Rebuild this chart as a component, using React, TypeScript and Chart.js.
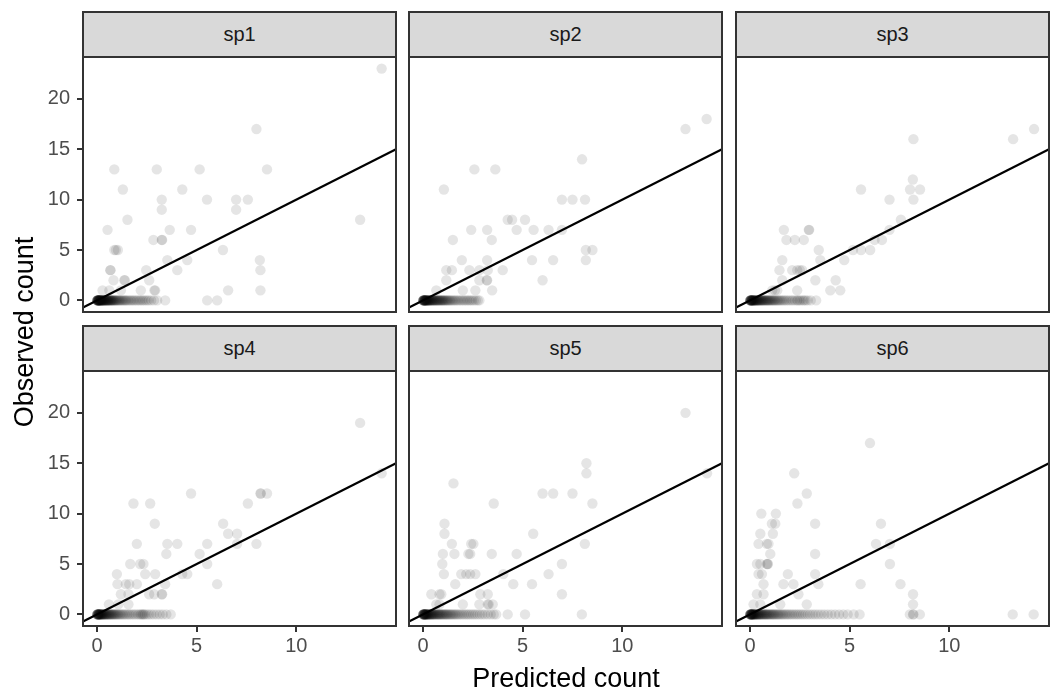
import React, { useEffect, useRef } from "react";
import { Chart, registerables } from "chart.js";

Chart.register(...registerables);

// ---------------- data ----------------
const SPECIES = ["sp1", "sp2", "sp3", "sp4", "sp5", "sp6"];
const X_TICKS = [0, 5, 10];
const Y_TICKS = [0, 5, 10, 15, 20];
const X_LIMITS = [-0.7, 15.0];
const Y_LIMITS = [-1.15, 24.15];
const ABLINE_INTERCEPT = 0;
const ABLINE_SLOPE = 1;
const X_TITLE = "Predicted count";
const Y_TITLE = "Observed count";

// [predicted, observed]
const SP1_POINTS = [
  [14.28, 23], [8.0, 17], [0.87, 13], [3.0, 13], [5.15, 13], [8.53, 13], [1.3, 11], [4.28, 11],
  [3.25, 10], [5.52, 10], [6.98, 10], [7.57, 10], [3.25, 9], [6.98, 9], [1.53, 8], [13.2, 8],
  [0.53, 7], [3.65, 7], [4.72, 7], [2.83, 6], [3.25, 6], [3.27, 6], [0.87, 5], [1.05, 5], [0.95, 5],
  [6.32, 5], [3.53, 4], [4.53, 4], [8.17, 4], [0.67, 3], [0.68, 3], [2.47, 3], [4.03, 3], [8.2, 3],
  [0.83, 2], [1.37, 2], [1.4, 2], [2.62, 2], [0.28, 1], [0.62, 1], [1.2, 1], [2.2, 1], [2.88, 1],
  [2.92, 1], [6.58, 1], [8.2, 1], [5.53, 0], [6.03, 0], [3.42, 0],
];
// predicted values of the sites with observed count 0
const SP1_ZERO_PRED = [
  0.01, 0.01, 0.02, 0.02, 0.03, 0.03, 0.04, 0.04, 0.05, 0.05, 0.06, 0.06, 0.07, 0.08, 0.08, 0.09,
  0.1, 0.1, 0.11, 0.12, 0.12, 0.13, 0.14, 0.15, 0.15, 0.16, 0.17, 0.18, 0.19, 0.2, 0.21, 0.22,
  0.23, 0.24, 0.25, 0.26, 0.27, 0.28, 0.29, 0.3, 0.31, 0.33, 0.34, 0.35, 0.37, 0.38, 0.4, 0.41,
  0.43, 0.44, 0.46, 0.47, 0.49, 0.5, 0.52, 0.54, 0.55, 0.57, 0.59, 0.61, 0.63, 0.65, 0.67, 0.69,
  0.71, 0.73, 0.75, 0.78, 0.8, 0.82, 0.85, 0.88, 0.91, 0.94, 0.97, 1.0, 1.04, 1.08, 1.12, 1.16,
  1.2, 1.25, 1.3, 1.35, 1.4, 1.45, 1.5, 1.57, 1.64, 1.71, 1.78, 1.85, 1.93, 2.01, 2.09, 2.17,
  2.25, 2.33, 2.42, 2.51, 2.6, 2.72, 2.86, 3.02,
];

const SP2_POINTS = [
  [14.23, 18], [13.17, 17], [7.98, 14], [2.58, 13], [3.63, 13], [1.05, 11], [6.97, 10], [7.5, 10],
  [8.13, 10], [4.25, 8], [4.47, 8], [5.12, 8], [2.42, 7], [3.22, 7], [4.7, 7], [5.55, 7], [6.3, 7],
  [6.97, 7], [1.5, 6], [3.45, 6], [8.17, 5], [8.5, 5], [1.95, 4], [3.22, 4], [5.47, 4], [6.53, 4],
  [8.17, 4], [1.17, 3], [1.45, 3], [2.33, 3], [2.83, 3], [3.25, 3], [4.0, 3], [1.17, 2], [2.83, 2],
  [3.2, 2], [3.22, 2], [6.0, 2], [0.67, 1], [2.0, 1], [2.63, 1], [3.47, 1], [2.83, 0],
];
const SP2_ZERO_PRED = [
  0.01, 0.01, 0.02, 0.02, 0.03, 0.03, 0.04, 0.05, 0.05, 0.06, 0.07, 0.07, 0.08, 0.09, 0.1, 0.1,
  0.11, 0.12, 0.13, 0.14, 0.15, 0.16, 0.17, 0.18, 0.19, 0.2, 0.21, 0.22, 0.24, 0.25, 0.26, 0.28,
  0.29, 0.31, 0.32, 0.34, 0.35, 0.37, 0.39, 0.41, 0.43, 0.45, 0.47, 0.49, 0.51, 0.53, 0.55, 0.58,
  0.6, 0.62, 0.65, 0.67, 0.7, 0.72, 0.75, 0.78, 0.8, 0.83, 0.86, 0.89, 0.92, 0.95, 0.98, 1.01,
  1.04, 1.08, 1.11, 1.15, 1.19, 1.23, 1.27, 1.32, 1.37, 1.42, 1.48, 1.54, 1.6, 1.67, 1.74, 1.82,
  1.9, 1.98, 2.06, 2.14, 2.22, 2.3, 2.38, 2.46, 2.55, 2.65, 2.75,
];

const SP3_POINTS = [
  [14.25, 17], [13.2, 16], [8.2, 16], [5.57, 11], [8.17, 12], [8.03, 11], [8.53, 11], [8.2, 10],
  [7.0, 10], [7.57, 8], [7.0, 7], [1.7, 7], [2.95, 7], [2.97, 7], [1.83, 6], [2.25, 6], [2.7, 6],
  [6.25, 6], [6.62, 6], [3.45, 5], [5.17, 5], [5.57, 5], [6.03, 5], [1.62, 4], [3.53, 4], [4.73, 4],
  [1.48, 3], [2.12, 3], [2.37, 3], [2.5, 3], [2.62, 3], [1.62, 2], [3.28, 2], [4.3, 2], [1.12, 1],
  [1.25, 1], [1.37, 1], [2.37, 1], [4.03, 1], [4.53, 1],
];
const SP3_ZERO_PRED = [
  0.01, 0.01, 0.02, 0.02, 0.03, 0.03, 0.04, 0.05, 0.05, 0.06, 0.07, 0.08, 0.08, 0.09, 0.1, 0.11,
  0.12, 0.13, 0.14, 0.15, 0.16, 0.17, 0.18, 0.19, 0.2, 0.22, 0.23, 0.24, 0.26, 0.27, 0.29, 0.3,
  0.32, 0.34, 0.35, 0.37, 0.39, 0.41, 0.43, 0.45, 0.47, 0.49, 0.51, 0.54, 0.56, 0.58, 0.61, 0.63,
  0.66, 0.68, 0.71, 0.74, 0.77, 0.8, 0.83, 0.86, 0.89, 0.92, 0.95, 0.99, 1.02, 1.06, 1.1, 1.14,
  1.18, 1.22, 1.26, 1.31, 1.36, 1.41, 1.46, 1.52, 1.58, 1.65, 1.72, 1.8, 1.88, 1.97, 2.07, 2.15,
  2.25, 2.35, 2.4, 2.48, 2.55, 2.65, 2.72, 2.8, 2.9, 3.05, 3.32,
];

const SP4_POINTS = [
  [13.2, 19], [14.28, 14], [4.72, 12], [8.2, 12], [8.22, 12], [8.53, 12], [1.83, 11], [2.67, 11],
  [7.57, 11], [2.9, 9], [6.33, 9], [6.58, 8], [7.03, 8], [2.0, 7], [3.53, 7], [4.03, 7], [5.53, 7],
  [7.03, 7], [8.0, 7], [3.48, 6], [5.15, 6], [1.67, 5], [2.17, 5], [2.33, 5], [5.53, 5], [1.0, 4],
  [2.42, 4], [2.92, 4], [4.28, 4], [4.53, 4], [1.03, 3], [1.45, 3], [1.62, 3], [2.0, 3], [3.42, 3],
  [6.03, 3], [1.2, 2], [1.58, 2], [2.62, 2], [2.87, 2], [3.25, 2], [3.27, 2], [1.07, 1], [1.58, 1],
  [0.6, 1],
];
const SP4_ZERO_PRED = [
  0.01, 0.01, 0.02, 0.02, 0.03, 0.04, 0.04, 0.05, 0.06, 0.06, 0.07, 0.08, 0.09, 0.1, 0.1, 0.11,
  0.12, 0.13, 0.14, 0.15, 0.16, 0.17, 0.18, 0.2, 0.21, 0.22, 0.24, 0.25, 0.27, 0.28, 0.3, 0.31,
  0.33, 0.35, 0.37, 0.39, 0.41, 0.43, 0.45, 0.47, 0.5, 0.52, 0.54, 0.57, 0.6, 0.62, 0.65, 0.68,
  0.71, 0.74, 0.77, 0.8, 0.84, 0.87, 0.91, 0.95, 0.99, 1.03, 1.08, 1.13, 1.18, 1.24, 1.3, 1.37,
  1.44, 1.52, 1.6, 1.68, 1.77, 1.86, 1.95, 2.05, 2.13, 2.2, 2.25, 2.3, 2.35, 2.4, 2.5, 2.6, 2.72,
  2.85, 3.0, 3.15, 3.3, 3.48, 3.7,
];

const SP5_POINTS = [
  [13.17, 20], [14.25, 14], [8.2, 15], [8.2, 14], [1.53, 13], [6.0, 12], [6.53, 12], [7.5, 12],
  [8.5, 11], [3.55, 11], [1.08, 9], [1.08, 8], [5.53, 8], [1.45, 7], [2.42, 7], [2.53, 7], [8.12, 7],
  [1.0, 6], [1.58, 6], [2.28, 6], [2.37, 6], [3.45, 6], [4.7, 6], [0.97, 5], [6.97, 5], [1.05, 4],
  [1.92, 4], [2.17, 4], [2.37, 4], [2.63, 4], [4.03, 4], [6.3, 4], [1.62, 3], [4.53, 3], [5.47, 3],
  [0.42, 2], [0.83, 2], [0.92, 2], [2.88, 2], [3.25, 2], [6.97, 2], [0.67, 1], [0.83, 1], [2.0, 1],
  [2.83, 1], [3.25, 1], [3.3, 1], [3.5, 1], [4.25, 0], [5.12, 0], [7.97, 0],
];
const SP5_ZERO_PRED = [
  0.01, 0.01, 0.02, 0.02, 0.03, 0.03, 0.04, 0.05, 0.05, 0.06, 0.07, 0.08, 0.08, 0.09, 0.1, 0.11,
  0.12, 0.13, 0.14, 0.15, 0.16, 0.17, 0.18, 0.2, 0.21, 0.22, 0.24, 0.25, 0.27, 0.28, 0.3, 0.32,
  0.34, 0.36, 0.38, 0.4, 0.42, 0.44, 0.46, 0.48, 0.51, 0.53, 0.56, 0.58, 0.61, 0.64, 0.67, 0.7,
  0.73, 0.76, 0.79, 0.82, 0.85, 0.88, 0.92, 0.95, 0.99, 1.03, 1.07, 1.11, 1.15, 1.19, 1.23, 1.28,
  1.33, 1.38, 1.43, 1.48, 1.54, 1.6, 1.66, 1.73, 1.8, 1.88, 1.96, 2.05, 2.14, 2.23, 2.32, 2.42,
  2.52, 2.62, 2.73, 2.85, 2.97, 3.1, 3.25, 3.4, 3.55, 3.67,
];

const SP6_POINTS = [
  [6.02, 17], [2.22, 14], [2.85, 12], [2.38, 11], [0.57, 10], [1.3, 10], [1.1, 9], [1.27, 9],
  [3.27, 9], [6.57, 9], [0.52, 8], [1.15, 8], [0.43, 7], [0.85, 7], [0.93, 7], [6.32, 7], [7.02, 7],
  [1.02, 6], [3.27, 6], [0.35, 5], [0.52, 5], [0.85, 5], [0.9, 5], [0.88, 5], [7.02, 5], [0.43, 4],
  [0.6, 4], [1.9, 4], [3.27, 4], [0.68, 3], [1.68, 3], [2.18, 3], [3.43, 3], [5.55, 3], [7.55, 3],
  [0.35, 2], [0.68, 2], [2.43, 2], [8.18, 2], [0.18, 1], [0.52, 1], [1.52, 1], [2.85, 1], [8.18, 1],
  [8.02, 0], [8.18, 0], [8.2, 0], [8.52, 0], [13.18, 0], [14.23, 0],
];
const SP6_ZERO_PRED = [
  0.01, 0.01, 0.02, 0.02, 0.03, 0.03, 0.04, 0.05, 0.05, 0.06, 0.07, 0.08, 0.08, 0.09, 0.1, 0.11,
  0.12, 0.13, 0.14, 0.15, 0.16, 0.17, 0.18, 0.2, 0.21, 0.22, 0.24, 0.25, 0.27, 0.28, 0.3, 0.32,
  0.34, 0.36, 0.38, 0.4, 0.42, 0.44, 0.46, 0.48, 0.51, 0.53, 0.56, 0.58, 0.61, 0.64, 0.67, 0.7,
  0.73, 0.76, 0.79, 0.82, 0.85, 0.88, 0.92, 0.95, 0.99, 1.03, 1.07, 1.11, 1.15, 1.19, 1.23, 1.28,
  1.33, 1.38, 1.43, 1.48, 1.54, 1.6, 1.66, 1.73, 1.8, 1.87, 1.95, 2.03, 2.11, 2.2, 2.29, 2.38,
  2.47, 2.57, 2.67, 2.78, 2.9, 3.02, 3.15, 3.28, 3.42, 3.57, 3.73, 3.9, 4.08, 4.27, 4.47, 4.68,
  4.9, 5.2, 5.5,
];

const POINTS = [SP1_POINTS, SP2_POINTS, SP3_POINTS, SP4_POINTS, SP5_POINTS, SP6_POINTS];
const ZERO_PRED = [SP1_ZERO_PRED, SP2_ZERO_PRED, SP3_ZERO_PRED, SP4_ZERO_PRED, SP5_ZERO_PRED, SP6_ZERO_PRED];

// ---------------- layout / style ----------------
const FONT = '"Liberation Sans", Arial, Helvetica, sans-serif';
const COL_LEFT = [83, 409, 736];
const PANEL_W = 313;
const ROW_PLOT_TOP = [57, 371];
const PANEL_H = 255;
const STRIP_H = 45;
const YAXIS_W = 70;
const XAXIS_H = 40;
const PAD = 2;
const BORDER = "#333333";

Chart.defaults.font.family = FONT;

const panelBorder = {
  id: "panelBorder",
  afterDraw(chart: any) {
    const { ctx, chartArea: a } = chart;
    ctx.save();
    ctx.strokeStyle = BORDER;
    ctx.lineWidth = 2;
    ctx.strokeRect(a.left, a.top, a.right - a.left, a.bottom - a.top);
    ctx.restore();
  },
};

function Panel({ index }: { index: number }) {
  const ref = useRef<HTMLCanvasElement | null>(null);
  const col = index % 3;
  const row = Math.floor(index / 3);
  const leftAxis = col === 0;
  const bottomAxis = row === 1;
  const cLeft = COL_LEFT[col] - PAD - (leftAxis ? YAXIS_W : 0);
  const cTop = ROW_PLOT_TOP[row] - PAD;
  const cW = PAD * 2 + PANEL_W + (leftAxis ? YAXIS_W : 0);
  const cH = PAD * 2 + PANEL_H + (bottomAxis ? XAXIS_H : 0);

  useEffect(() => {
    if (!ref.current) return;
    const pts = POINTS[index].map(([x, y]) => ({ x, y }));
    const zeros = ZERO_PRED[index].map((x) => ({ x, y: 0 }));
    const line = [X_LIMITS[0], X_LIMITS[1]].map((x) => ({ x, y: ABLINE_INTERCEPT + ABLINE_SLOPE * x }));
    const tickFont = { family: FONT, size: 20 };
    const chart = new Chart(ref.current, {
      type: "scatter",
      data: {
        datasets: [
          {
            type: "line",
            data: line,
            borderColor: "#000000",
            borderWidth: 2.2,
            pointRadius: 0,
            fill: false,
          } as any,
          {
            data: [...zeros, ...pts],
            backgroundColor: "rgba(0,0,0,0.1)",
            borderWidth: 0,
            pointRadius: 5.2,
            pointHoverRadius: 5.2,
          },
        ],
      },
      options: {
        animation: false,
        responsive: false,
        devicePixelRatio: 1,
        layout: { padding: PAD, autoPadding: false },
        plugins: { legend: { display: false }, tooltip: { enabled: false }, title: { display: false } },
        events: [],
        scales: {
          x: {
            type: "linear",
            min: X_LIMITS[0],
            max: X_LIMITS[1],
            display: bottomAxis,
            afterBuildTicks: (s: any) => {
              s.ticks = X_TICKS.map((v) => ({ value: v }));
            },
            afterFit: (s: any) => {
              if (bottomAxis) {
                s.height = XAXIS_H;
                s.paddingLeft = 0;
                s.paddingRight = 0;
              }
            },
            grid: { display: true, drawOnChartArea: false, drawTicks: true, tickLength: 6, color: BORDER, lineWidth: 2 },
            border: { display: false },
            ticks: { color: "#4D4D4D", font: tickFont, padding: 2, maxRotation: 0, autoSkip: false },
          },
          y: {
            type: "linear",
            min: Y_LIMITS[0],
            max: Y_LIMITS[1],
            display: leftAxis,
            afterBuildTicks: (s: any) => {
              s.ticks = Y_TICKS.map((v) => ({ value: v }));
            },
            afterFit: (s: any) => {
              if (leftAxis) {
                s.width = YAXIS_W;
                s.paddingTop = 0;
                s.paddingBottom = 0;
              }
            },
            grid: { display: true, drawOnChartArea: false, drawTicks: true, tickLength: 6, color: BORDER, lineWidth: 2 },
            border: { display: false },
            ticks: { color: "#4D4D4D", font: tickFont, padding: 7, autoSkip: false },
          },
        },
      } as any,
      plugins: [panelBorder],
    });
    return () => chart.destroy();
  }, [index]);

  const stripTop = ROW_PLOT_TOP[row] - STRIP_H;
  return (
    <>
      <div
        style={{
          position: "absolute",
          left: COL_LEFT[col] - 1,
          top: stripTop - 1,
          width: PANEL_W + 2,
          height: STRIP_H + 2,
          boxSizing: "border-box",
          border: `2px solid ${BORDER}`,
          background: "#D9D9D9",
          color: "#1A1A1A",
          fontFamily: FONT,
          fontSize: 20,
          display: "flex",
          alignItems: "center",
          justifyContent: "center",
        }}
      >
        {SPECIES[index]}
      </div>
      <canvas
        ref={ref}
        width={cW}
        height={cH}
        style={{ position: "absolute", left: cLeft, top: cTop, width: cW, height: cH }}
      />
    </>
  );
}

export default function App() {
  useEffect(() => {
    document.body.style.margin = "0";
  }, []);
  return (
    <div
      style={{
        position: "absolute",
        left: 0,
        top: 0,
        width: 1053,
        height: 692,
        overflow: "hidden",
        background: "#FFFFFF",
        fontFamily: FONT,
      }}
    >
      {SPECIES.map((_, i) => (
        <Panel key={i} index={i} />
      ))}
      <div
        style={{
          position: "absolute",
          left: 24 - 150,
          top: 332 - 16,
          width: 300,
          height: 32,
          lineHeight: "32px",
          fontSize: 27,
          textAlign: "center",
          color: "#000000",
          transform: "rotate(-90deg)",
          whiteSpace: "nowrap",
        }}
      >
        {Y_TITLE}
      </div>
      <div
        style={{
          position: "absolute",
          left: 566 - 200,
          top: 662,
          width: 400,
          height: 32,
          lineHeight: "32px",
          fontSize: 27,
          textAlign: "center",
          color: "#000000",
          whiteSpace: "nowrap",
        }}
      >
        {X_TITLE}
      </div>
    </div>
  );
}
